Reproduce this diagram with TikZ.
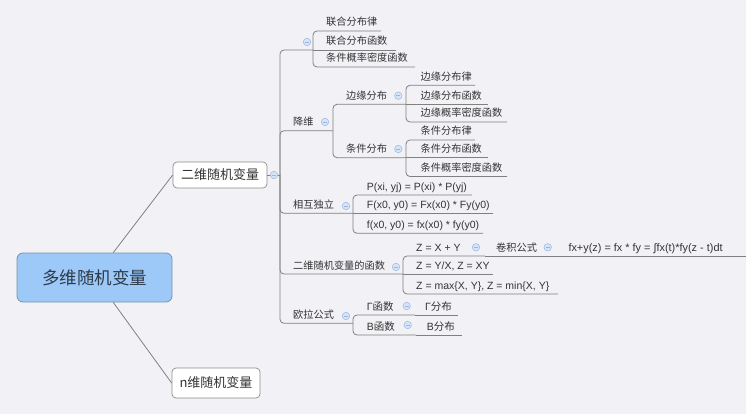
\documentclass[tikz,border=0pt]{standalone}
\usepackage{fontspec}
\setmainfont{Liberation Sans}
\newfontfamily\cjk{Noto Sans CJK SC}

\begin{document}
\begin{tikzpicture}[x=1pt, y=-1pt,
  link/.style={draw=linecol, line width=0.8pt},
  branch/.style={link, rounded corners=4pt},
  leaf/.style={anchor=base west, inner sep=0pt, text=txtcol, font=\fontsize{10.5}{12}\selectfont},
  cn/.style={leaf, font=\fontsize{10.2}{12}\cjk},
  fold/.style={circle, draw=foldline, fill=foldfill, line width=0.5pt, minimum size=7.5pt, inner sep=0pt,
    path picture={\draw[foldline, line width=0.8pt] ([xshift=-2pt]path picture bounding box.center) -- ([xshift=2pt]path picture bounding box.center);}},
  topbox/.style={draw=boxline, fill=white, rounded corners=4pt, line width=0.7pt, text=txtcol, font=\fontsize{13}{15}\cjk, inner sep=0pt},
  rootbox/.style={draw=rootline, fill=rootfill, rounded corners=6pt, line width=0.8pt, text=roottxt, font=\fontsize{17.5}{20}\cjk, minimum width=155pt, minimum height=49pt, inner sep=0pt}]
\definecolor{bgcol}{HTML}{F2F2F6}
\definecolor{rootfill}{HTML}{9CC9F8}
\definecolor{rootline}{HTML}{7893AE}
\definecolor{roottxt}{HTML}{2E3B4A}
\definecolor{boxline}{HTML}{8C8C8C}
\definecolor{linecol}{HTML}{808080}
\definecolor{txtcol}{HTML}{333333}
\definecolor{foldfill}{HTML}{D6E4F7}
\definecolor{foldline}{HTML}{9AB6DE}
\fill[bgcol] (0,0) rectangle (746,414);
\useasboundingbox (0,0) rectangle (746,414);

% main topics
\node[rootbox] (root) at (94.5,277.5) {多维随机变量};
\node[topbox, minimum width=94pt, minimum height=26pt] (erwei) at (220,175) {二维随机变量};
\node[topbox, minimum width=88pt, minimum height=30pt] (nwei) at (216,383) {n维随机变量};
\draw[link] (root.53) -- (erwei.west);
\draw[link] (root.-53) -- (nwei.west);

% bracket of 二维随机变量
\coordinate (mb) at (280,175);
\coordinate (lhe) at (313,50);
\coordinate (jwe) at (333,130.7);
\coordinate (xhe) at (353,213.3);
\coordinate (hse) at (403,274);
\coordinate (ole) at (353,323.3);
\draw[link] (erwei.east) -- (mb);
\foreach \c in {lhe,jwe,xhe,hse,ole} \draw[branch] (mb) |- (\c);
\node[cn] (jw) at (293,125.7) {降维};
\node[cn] (xh) at (293,208.3) {相互独立};
\node[cn] (hs) at (293,269) {二维随机变量的函数};
\node[cn] (ol) at (293,318.3) {欧拉公式};

% unnamed topic
\coordinate (a1e) at (381,31);
\coordinate (a2e) at (396,50);
\coordinate (a3e) at (415,67);
\draw[branch] (lhe) |- (a1e);
\draw[link] (lhe) -- (a2e);
\draw[branch] (lhe) |- (a3e);
\node[cn] (a1) at (326,26) {联合分布律};
\node[cn] (a2) at (326,45) {联合分布函数};
\node[cn] (a3) at (326,62) {条件概率密度函数};

% 降维
\coordinate (b1e) at (406,104.3);
\coordinate (b2e) at (406,157.7);
\draw[branch] (jwe) |- (b1e);
\draw[branch] (jwe) |- (b2e);
\node[cn] (b1) at (346,99.3) {边缘分布};
\node[cn] (b2) at (346,152.7) {条件分布};
\coordinate (b11e) at (475,85.3);
\coordinate (b12e) at (488,104.3);
\coordinate (b13e) at (507,122);
\draw[branch] (b1e) |- (b11e);
\draw[link] (b1e) -- (b12e);
\draw[branch] (b1e) |- (b13e);
\node[cn] (b11) at (420.5,80.3) {边缘分布律};
\node[cn] (b12) at (420.5,99.3) {边缘分布函数};
\node[cn] (b13) at (420.5,117) {边缘概率密度函数};
\coordinate (b21e) at (475,140);
\coordinate (b22e) at (488,157.7);
\coordinate (b23e) at (507,176.5);
\draw[branch] (b2e) |- (b21e);
\draw[link] (b2e) -- (b22e);
\draw[branch] (b2e) |- (b23e);
\node[cn] (b21) at (420.5,135) {条件分布律};
\node[cn] (b22) at (420.5,152.7) {条件分布函数};
\node[cn] (b23) at (420.5,171.5) {条件概率密度函数};

% 相互独立
\coordinate (c1e) at (472,195);
\coordinate (c2e) at (493,213.3);
\coordinate (c3e) at (483,233.3);
\draw[branch] (xhe) |- (c1e);
\draw[link] (xhe) -- (c2e);
\draw[branch] (xhe) |- (c3e);
\node[leaf] (c1) at (366.7,190) {P(xi, yj) = P(xi) * P(yj)};
\node[leaf] (c2) at (366.7,208.3) {F(x0, y0) = Fx(x0) * Fy(y0)};
\node[leaf] (c3) at (366.7,228.3) {f(x0, y0) = fx(x0) * fy(y0)};

% 二维随机变量的函数
\coordinate (d1e) at (485,256);
\coordinate (d2e) at (493,274);
\coordinate (d3e) at (558,294);
\draw[branch] (hse) |- (d1e);
\draw[link] (hse) -- (d2e);
\draw[branch] (hse) |- (d3e);
\node[leaf] (d1) at (416,251) {Z = X + Y};
\node[leaf] (d2) at (416,269) {Z = Y/X, Z = XY};
\node[leaf] (d3) at (416,289) {Z = max\{X, Y\}, Z = min\{X, Y\}};
\coordinate (d11e) at (556,256);
\coordinate (d111e) at (746,256);
\draw[link] (d1e) -- (d11e);
\draw[link] (d11e) -- (d111e);
\node[cn] (d11) at (496,251) {卷积公式};
\node[leaf, font=\fontsize{10.9}{12}\selectfont] (d111) at (568.3,251) {fx+y(z) = fx * fy = ∫fx(t)*fy(z - t)dt};

% 欧拉公式
\coordinate (e1e) at (415,315);
\coordinate (e2e) at (416,335);
\draw[branch] (ole) |- (e1e);
\draw[branch] (ole) |- (e2e);
\node[leaf] (e1) at (366.7,310) {Γ\cjk 函数};
\node[leaf] (e2) at (366.7,330) {B\cjk 函数};
\coordinate (e11e) at (458,315);
\coordinate (e21e) at (462,335);
\draw[link] (e1e) -- (e11e);
\draw[link] (e2e) -- (e21e);
\node[leaf] (e11) at (425,310) {Γ\cjk 分布};
\node[leaf] (e21) at (426.7,330) {B\cjk 分布};

% fold marks
\node[fold] (erweif) at (274,175) {};
\node[fold] (lhf) at (307,42) {};
\node[fold] (jwf) at (325,122) {};
\node[fold] (b1f) at (398.3,95.7) {};
\node[fold] (b2f) at (398.3,149) {};
\node[fold] (xhf) at (346,206) {};
\node[fold] (hsf) at (396,267) {};
\node[fold] (d1f) at (476,247.3) {};
\node[fold] (d11f) at (547.7,247.3) {};
\node[fold] (olf) at (346,316) {};
\node[fold] (e1f) at (406.7,306) {};
\node[fold] (e2f) at (407.7,325) {};
\end{tikzpicture}
\end{document}
